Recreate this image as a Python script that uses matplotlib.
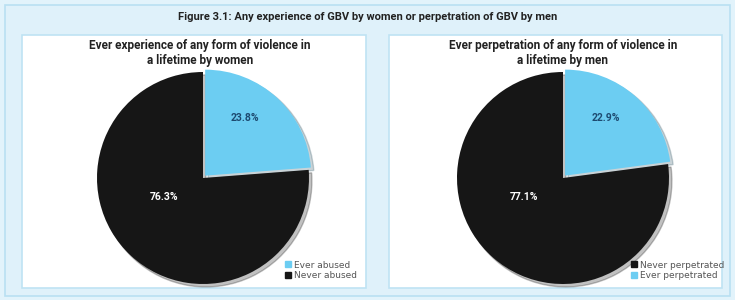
import matplotlib
matplotlib.use("Agg")
import matplotlib.pyplot as plt
from matplotlib.patches import Rectangle
from matplotlib.lines import Line2D

# ---- data ----
title = "Figure 3.1: Any experience of GBV by women or perpetration of GBV by men"
left_title = "Ever experience of any form of violence in\na lifetime by women"
right_title = "Ever perpetration of any form of violence in\na lifetime by men"
left_labels = ["Ever abused", "Never abused"]
left_values = [23.8, 76.3]
right_labels = ["Ever perpetrated", "Never perpetrated"]
right_values = [22.9, 77.1]

BLUE = "#6ccdf2"
BLACK = "#161616"
W, H = 735, 300
FONT = ["Liberation Sans Narrow", "Roboto", "DejaVu Sans"]

fig = plt.figure(figsize=(W / 100, H / 100), dpi=100)
fig.patch.set_facecolor("#e2f3fb")

def px(x0, y0, w, h):
    return [x0 / W, 1 - (y0 + h) / H, w / W, h / H]

# outer frame and panels
bg = fig.add_axes([0, 0, 1, 1])
bg.set_xlim(0, W); bg.set_ylim(H, 0); bg.axis("off")
bg.add_patch(Rectangle((5, 5), 725, 291, fc="#dff1fa", ec="#b9e0f2", lw=1.2))
for x0, x1 in [(22, 366), (389, 722)]:
    bg.add_patch(Rectangle((x0, 35), x1 - x0, 253, fc="white", ec="#bfe3f3", lw=1.2))
bg.text(W / 2, 17, title, ha="center", va="center", fontsize=8,
        fontweight="bold", color="#222222", family=FONT)
bg.text(200, 53, left_title, ha="center", va="center", fontsize=8.5,
        fontweight="bold", color="#222222", family=FONT, linespacing=1.25)
bg.text(563, 53, right_title, ha="center", va="center", fontsize=8.5,
        fontweight="bold", color="#222222", family=FONT, linespacing=1.25)

def draw_pie(cx, cy, r, labels, values, colors, legend_order, leg_xy, pos):
    ax = fig.add_axes(px(cx - r, cy - r, 2 * r, 2 * r))
    wedges, _ = ax.pie(values, colors=colors, startangle=90, counterclock=False,
                       explode=[0.03, 0], normalize=True,
                       shadow={"ox": 0.02, "oy": -0.02, "shade": 0.6, "alpha": 0.25},
                       wedgeprops=dict(edgecolor="none", clip_on=False))
    ax.set_xlim(-1.0, 1.0); ax.set_ylim(-1.0, 1.0)
    ax.set_aspect("equal")
    tcolors = ["#1d4a70", "white"]
    for v, (tx, ty), tc in zip(values, pos, tcolors):
        ax.text(tx, ty, f"{v:.1f}%", ha="center", va="center", fontsize=7.5,
                fontweight="bold", color=tc, family=FONT)
    handles = [Line2D([], [], marker="s", ls="none", color=colors[i], markersize=4)
               for i in legend_order]
    fig.legend(handles, [labels[i] for i in legend_order], loc="upper left",
               bbox_to_anchor=(leg_xy[0] / W, 1 - leg_xy[1] / H), frameon=False,
               fontsize=6.5, handlelength=0.6, handletextpad=0.3, labelspacing=0.15,
               borderpad=0, labelcolor="#555555")
    return ax

draw_pie(203, 178, 106, left_labels, left_values, [BLUE, BLACK], [0, 1], (281, 256),
         [(0.40, 0.57), (-0.37, -0.18)])
draw_pie(563, 178, 106, right_labels, right_values, [BLUE, BLACK], [1, 0], (627, 256),
         [(0.40, 0.57), (-0.37, -0.18)])

fig.savefig("out.png", dpi=100, facecolor=fig.get_facecolor())
